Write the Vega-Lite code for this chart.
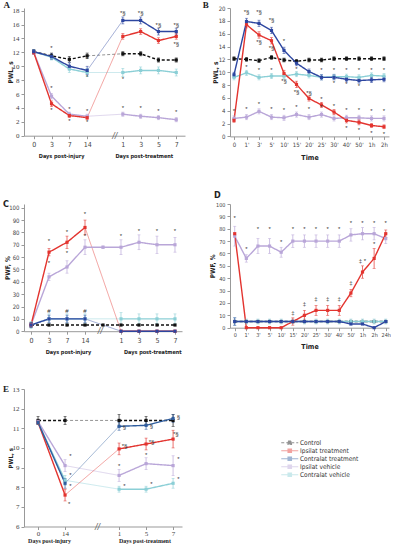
{
"$schema": "https://vega.github.io/schema/vega-lite/v6.json",
"padding": {"left": 2, "top": 0, "right": 0, "bottom": 0},
"background": "white",
"datasets": {
"A": [
{"s":"C","x":0,"y":12.1,"e":0.3,"g":"a"},{"s":"C","x":1,"y":11.5,"e":0.4,"g":"a"},{"s":"C","x":2,"y":11.0,"e":0.4,"g":"a"},{"s":"C","x":3,"y":11.5,"e":0.4,"g":"a"},
{"s":"C","x":5,"y":11.8,"e":0.3,"g":"b"},{"s":"C","x":6,"y":11.8,"e":0.3,"g":"b"},{"s":"C","x":7,"y":10.9,"e":0.3,"g":"b"},{"s":"C","x":8,"y":10.9,"e":0.3,"g":"b"},
{"s":"C","x":3,"y":11.5,"e":0,"g":"gap"},{"s":"C","x":5,"y":11.8,"e":0,"g":"gap"},
{"s":"CV","x":0,"y":12.1,"e":0.3,"g":"a"},{"s":"CV","x":1,"y":11.3,"e":0.4,"g":"a"},{"s":"CV","x":2,"y":9.6,"e":0.5,"g":"a"},{"s":"CV","x":3,"y":9.1,"e":0.6,"g":"a"},
{"s":"CV","x":5,"y":9.1,"e":0.6,"g":"b"},{"s":"CV","x":6,"y":9.4,"e":0.5,"g":"b"},{"s":"CV","x":7,"y":9.4,"e":0.5,"g":"b"},{"s":"CV","x":8,"y":9.1,"e":0.5,"g":"b"},
{"s":"CV","x":3,"y":9.1,"e":0,"g":"gap"},{"s":"CV","x":5,"y":9.1,"e":0,"g":"gap"},
{"s":"IV","x":0,"y":12.0,"e":0.3,"g":"a"},{"s":"IV","x":1,"y":5.7,"e":0.4,"g":"a"},{"s":"IV","x":2,"y":3.1,"e":0.3,"g":"a"},{"s":"IV","x":3,"y":2.8,"e":0.3,"g":"a"},
{"s":"IV","x":5,"y":3.1,"e":0.3,"g":"b"},{"s":"IV","x":6,"y":2.8,"e":0.3,"g":"b"},{"s":"IV","x":7,"y":2.6,"e":0.3,"g":"b"},{"s":"IV","x":8,"y":2.3,"e":0.3,"g":"b"},
{"s":"IV","x":3,"y":2.8,"e":0,"g":"gap"},{"s":"IV","x":5,"y":3.1,"e":0,"g":"gap"},
{"s":"IT","x":0,"y":12.0,"e":0.3,"g":"a"},{"s":"IT","x":1,"y":4.6,"e":0.4,"g":"a"},{"s":"IT","x":2,"y":2.9,"e":0.3,"g":"a"},{"s":"IT","x":3,"y":2.6,"e":0.3,"g":"a"},
{"s":"IT","x":5,"y":14.3,"e":0.4,"g":"b"},{"s":"IT","x":6,"y":15.0,"e":0.4,"g":"b"},{"s":"IT","x":7,"y":13.7,"e":0.4,"g":"b"},{"s":"IT","x":8,"y":14.3,"e":0.4,"g":"b"},
{"s":"IT","x":3,"y":2.6,"e":0,"g":"gap"},{"s":"IT","x":5,"y":14.3,"e":0,"g":"gap"},
{"s":"CT","x":0,"y":12.1,"e":0.3,"g":"a"},{"s":"CT","x":1,"y":11.4,"e":0.4,"g":"a"},{"s":"CT","x":2,"y":10.0,"e":0.5,"g":"a"},{"s":"CT","x":3,"y":9.4,"e":0.6,"g":"a"},
{"s":"CT","x":5,"y":16.6,"e":0.5,"g":"b"},{"s":"CT","x":6,"y":16.6,"e":0.5,"g":"b"},{"s":"CT","x":7,"y":15.0,"e":0.5,"g":"b"},{"s":"CT","x":8,"y":15.0,"e":0.5,"g":"b"},
{"s":"CT","x":3,"y":9.4,"e":0,"g":"gap"},{"s":"CT","x":5,"y":16.6,"e":0,"g":"gap"}
],
"Aa": [
{"x":-1.52,"y":18.88,"t":"A","k":"L"},
{"x":1,"y":12.6,"t":"*","k":"n"},{"x":1,"y":6.8,"t":"*","k":"n"},{"x":1,"y":3.7,"t":"*","k":"n"},
{"x":2,"y":3.8,"t":"*","k":"n"},{"x":2,"y":2.1,"t":"*","k":"n"},
{"x":3,"y":11.0,"t":"*","k":"n"},{"x":3,"y":8.4,"t":"*","k":"n"},{"x":3,"y":3.6,"t":"*","k":"n"},{"x":3,"y":2.0,"t":"*","k":"n"},
{"x":5,"y":17.6,"t":"*§","k":"n"},{"x":5,"y":8.2,"t":"*","k":"n"},{"x":5,"y":4.0,"t":"*","k":"n"},
{"x":6,"y":17.6,"t":"*§","k":"n"},{"x":6,"y":4.0,"t":"*","k":"n"},
{"x":7,"y":16.0,"t":"*§","k":"n"},{"x":7,"y":3.6,"t":"*","k":"n"},
{"x":8,"y":16.0,"t":"*§","k":"n"},{"x":8,"y":13.2,"t":"*§","k":"n"},{"x":8,"y":3.4,"t":"*","k":"n"},
{"x":4.55,"y":0,"t":"//","k":"b"}
],
"B": [
{"s":"C","x":0,"y":12.1,"e":0.3},{"s":"C","x":1,"y":12.0,"e":0.3},{"s":"C","x":2,"y":11.8,"e":0.3},{"s":"C","x":3,"y":12.3,"e":0.3},{"s":"C","x":4,"y":11.9,"e":0.3},{"s":"C","x":5,"y":11.7,"e":0.3},{"s":"C","x":6,"y":11.9,"e":0.3},{"s":"C","x":7,"y":11.9,"e":0.3},{"s":"C","x":8,"y":12.1,"e":0.3},{"s":"C","x":9,"y":12.1,"e":0.3},{"s":"C","x":10,"y":12.1,"e":0.3},{"s":"C","x":11,"y":12.1,"e":0.3},{"s":"C","x":12,"y":12.1,"e":0.3},
{"s":"CV","x":0,"y":9.2,"e":0.4},{"s":"CV","x":1,"y":9.9,"e":0.4},{"s":"CV","x":2,"y":9.2,"e":0.4},{"s":"CV","x":3,"y":9.4,"e":0.4},{"s":"CV","x":4,"y":9.4,"e":0.4},{"s":"CV","x":5,"y":9.7,"e":0.4},{"s":"CV","x":6,"y":9.5,"e":0.4},{"s":"CV","x":7,"y":9.2,"e":0.4},{"s":"CV","x":8,"y":9.3,"e":0.4},{"s":"CV","x":9,"y":9.3,"e":0.4},{"s":"CV","x":10,"y":9.2,"e":0.4},{"s":"CV","x":11,"y":9.5,"e":0.4},{"s":"CV","x":12,"y":9.4,"e":0.4},
{"s":"IV","x":0,"y":2.8,"e":0.4},{"s":"IV","x":1,"y":3.0,"e":0.4},{"s":"IV","x":2,"y":3.9,"e":0.4},{"s":"IV","x":3,"y":3.0,"e":0.4},{"s":"IV","x":4,"y":2.9,"e":0.4},{"s":"IV","x":5,"y":3.4,"e":0.4},{"s":"IV","x":6,"y":3.0,"e":0.4},{"s":"IV","x":7,"y":3.4,"e":0.4},{"s":"IV","x":8,"y":2.8,"e":0.4},{"s":"IV","x":9,"y":2.9,"e":0.4},{"s":"IV","x":10,"y":2.9,"e":0.4},{"s":"IV","x":11,"y":2.8,"e":0.4},{"s":"IV","x":12,"y":2.8,"e":0.4},
{"s":"IT","x":0,"y":2.5,"e":0.3},{"s":"IT","x":1,"y":17.4,"e":0.5},{"s":"IT","x":2,"y":15.8,"e":0.5},{"s":"IT","x":3,"y":14.9,"e":0.5},{"s":"IT","x":4,"y":9.8,"e":0.5},{"s":"IT","x":5,"y":8.1,"e":0.5},{"s":"IT","x":6,"y":5.9,"e":0.4},{"s":"IT","x":7,"y":4.9,"e":0.4},{"s":"IT","x":8,"y":3.8,"e":0.4},{"s":"IT","x":9,"y":2.5,"e":0.4},{"s":"IT","x":10,"y":2.2,"e":0.4},{"s":"IT","x":11,"y":1.7,"e":0.3},{"s":"IT","x":12,"y":1.5,"e":0.3},
{"s":"CT","x":0,"y":9.6,"e":0.4},{"s":"CT","x":1,"y":17.9,"e":0.5},{"s":"CT","x":2,"y":17.6,"e":0.5},{"s":"CT","x":3,"y":16.5,"e":0.5},{"s":"CT","x":4,"y":13.4,"e":0.5},{"s":"CT","x":5,"y":11.4,"e":0.4},{"s":"CT","x":6,"y":10.1,"e":0.4},{"s":"CT","x":7,"y":9.2,"e":0.4},{"s":"CT","x":8,"y":9.2,"e":0.4},{"s":"CT","x":9,"y":8.9,"e":0.4},{"s":"CT","x":10,"y":8.7,"e":0.4},{"s":"CT","x":11,"y":8.8,"e":0.4},{"s":"CT","x":12,"y":8.9,"e":0.4}
],
"Ba": [
{"x":-2.26,"y":20.5,"t":"B","k":"L"},
{"x":1,"y":19.3,"t":"*§","k":"n"},{"x":2,"y":19.3,"t":"*§","k":"n"},{"x":3,"y":18.2,"t":"*§","k":"n"},{"x":4,"y":14.8,"t":"*","k":"n"},
{"x":2,"y":14.7,"t":"*§","k":"n"},{"x":3,"y":13.7,"t":"*§","k":"n"},{"x":4,"y":8.6,"t":"*§","k":"n"},{"x":5,"y":6.9,"t":"*§","k":"n"},{"x":6,"y":6.8,"t":"*§","k":"n"},{"x":7,"y":5.9,"t":"*","k":"n"},{"x":8,"y":4.8,"t":"*","k":"n"},
{"x":1,"y":10.8,"t":"*","k":"n"},{"x":2,"y":10.4,"t":"*","k":"n"},{"x":3,"y":10.4,"t":"*","k":"n"},{"x":5,"y":10.5,"t":"*","k":"n"},{"x":7,"y":10.4,"t":"*","k":"n"},{"x":8,"y":10.4,"t":"*","k":"n"},{"x":9,"y":10.4,"t":"*","k":"n"},{"x":10,"y":10.4,"t":"*","k":"n"},{"x":11,"y":10.4,"t":"*","k":"n"},{"x":12,"y":10.4,"t":"*","k":"n"},
{"x":0,"y":4.0,"t":"*","k":"n"},{"x":1,"y":4.2,"t":"*","k":"n"},{"x":2,"y":5.0,"t":"*","k":"n"},{"x":3,"y":4.2,"t":"*","k":"n"},{"x":4,"y":4.1,"t":"*","k":"n"},{"x":5,"y":4.6,"t":"*","k":"n"},{"x":6,"y":4.2,"t":"*","k":"n"},{"x":7,"y":4.6,"t":"*","k":"n"},{"x":9,"y":4.1,"t":"*","k":"n"},{"x":10,"y":4.1,"t":"*","k":"n"},{"x":11,"y":4.0,"t":"*","k":"n"},{"x":12,"y":4.0,"t":"*","k":"n"},
{"x":8,"y":8.3,"t":"*","k":"n"},{"x":9,"y":8.1,"t":"*","k":"n"},{"x":10,"y":7.8,"t":"*","k":"n"},
{"x":9,"y":1.3,"t":"*","k":"n"},{"x":10,"y":1.0,"t":"*","k":"n"},{"x":11,"y":0.6,"t":"*","k":"n"},{"x":12,"y":0.4,"t":"*","k":"n"}
],
"C": [
{"s":"C","x":0,"y":5,"e":2,"g":"a"},{"s":"C","x":1,"y":5,"e":0,"g":"a"},{"s":"C","x":2,"y":5,"e":0,"g":"a"},{"s":"C","x":3,"y":5,"e":0,"g":"a"},{"s":"C","x":4,"y":5,"e":0,"g":"a"},{"s":"C","x":5,"y":5,"e":0,"g":"a"},{"s":"C","x":6,"y":5,"e":0,"g":"a"},{"s":"C","x":7,"y":5,"e":0,"g":"a"},{"s":"C","x":8,"y":5,"e":0,"g":"a"},
{"s":"CV","x":0,"y":5,"e":3,"g":"a"},{"s":"CV","x":1,"y":10,"e":4,"g":"a"},{"s":"CV","x":2,"y":10,"e":4,"g":"a"},{"s":"CV","x":3,"y":10,"e":4,"g":"a"},
{"s":"CV","x":5,"y":10,"e":5,"g":"b"},{"s":"CV","x":6,"y":10,"e":4,"g":"b"},{"s":"CV","x":7,"y":10,"e":4,"g":"b"},{"s":"CV","x":8,"y":10,"e":4,"g":"b"},
{"s":"CV","x":3,"y":10,"e":0,"g":"gap"},{"s":"CV","x":5,"y":10,"e":0,"g":"gap"},
{"s":"IV","x":0,"y":5,"e":0,"g":"a"},{"s":"IV","x":1,"y":44,"e":3,"g":"a"},{"s":"IV","x":2,"y":52,"e":5,"g":"a"},{"s":"IV","x":3,"y":68,"e":6,"g":"a"},{"s":"IV","x":4,"y":68,"e":1,"g":"a"},{"s":"IV","x":5,"y":68,"e":6,"g":"a"},{"s":"IV","x":6,"y":72,"e":6,"g":"a"},{"s":"IV","x":7,"y":70,"e":7,"g":"a"},{"s":"IV","x":8,"y":70,"e":6,"g":"a"},
{"s":"IT","x":0,"y":5,"e":0,"g":"a"},{"s":"IT","x":1,"y":64,"e":3,"g":"a"},{"s":"IT","x":2,"y":72,"e":5,"g":"a"},{"s":"IT","x":3,"y":84,"e":6,"g":"a"},
{"s":"IT","x":5,"y":0,"e":0,"g":"b"},{"s":"IT","x":6,"y":0,"e":0,"g":"b"},{"s":"IT","x":7,"y":0,"e":0,"g":"b"},{"s":"IT","x":8,"y":0,"e":0,"g":"b"},
{"s":"IT","x":3,"y":84,"e":0,"g":"gap"},{"s":"IT","x":5,"y":0,"e":0,"g":"gap"},
{"s":"CT","x":0,"y":5,"e":2,"g":"a"},{"s":"CT","x":1,"y":10,"e":3,"g":"a"},{"s":"CT","x":2,"y":10,"e":3,"g":"a"},{"s":"CT","x":3,"y":10,"e":3,"g":"a"},
{"s":"CT","x":5,"y":0,"e":0,"g":"b"},{"s":"CT","x":6,"y":0,"e":0,"g":"b"},{"s":"CT","x":7,"y":0,"e":0,"g":"b"},{"s":"CT","x":8,"y":0,"e":0,"g":"b"},
{"s":"CT","x":3,"y":10,"e":0,"g":"gap"},{"s":"CT","x":4,"y":5,"e":0,"g":"gap"},{"s":"CT","x":5,"y":0,"e":0,"g":"gap"}
],
"Ca": [
{"x":-1.39,"y":103,"t":"C","k":"L"},
{"x":1,"y":73,"t":"*","k":"n"},{"x":1,"y":55,"t":"*","k":"n"},{"x":2,"y":80,"t":"*","k":"n"},{"x":2,"y":63,"t":"*","k":"n"},{"x":3,"y":95,"t":"*","k":"n"},{"x":3,"y":77,"t":"*","k":"n"},
{"x":5,"y":77,"t":"*","k":"n"},{"x":6,"y":81,"t":"*","k":"n"},{"x":7,"y":81,"t":"*","k":"n"},{"x":8,"y":81,"t":"*","k":"n"},
{"x":1,"y":16,"t":"#","k":"n"},{"x":2,"y":16,"t":"#","k":"n"},{"x":3,"y":16,"t":"#","k":"n"},
{"x":3.85,"y":0,"t":"//","k":"b"}
],
"D": [
{"s":"C","x":0,"y":5,"e":0},{"s":"C","x":1,"y":5,"e":0},{"s":"C","x":2,"y":5,"e":0},{"s":"C","x":3,"y":5,"e":0},{"s":"C","x":4,"y":5,"e":0},{"s":"C","x":5,"y":5,"e":0},{"s":"C","x":6,"y":5,"e":0},{"s":"C","x":7,"y":5,"e":0},{"s":"C","x":8,"y":5,"e":0},{"s":"C","x":9,"y":5,"e":0},{"s":"C","x":10,"y":5,"e":0},{"s":"C","x":11,"y":5,"e":0},{"s":"C","x":12,"y":5,"e":0},{"s":"C","x":13,"y":5,"e":0},
{"s":"CV","x":0,"y":5,"e":3},{"s":"CV","x":1,"y":5,"e":2},{"s":"CV","x":2,"y":5,"e":2},{"s":"CV","x":3,"y":5,"e":2},{"s":"CV","x":4,"y":5,"e":2},{"s":"CV","x":5,"y":5,"e":2},{"s":"CV","x":6,"y":5,"e":2},{"s":"CV","x":7,"y":5,"e":2},{"s":"CV","x":8,"y":5,"e":2},{"s":"CV","x":9,"y":5,"e":2},{"s":"CV","x":10,"y":5,"e":2},{"s":"CV","x":11,"y":5,"e":2},{"s":"CV","x":12,"y":5,"e":2},{"s":"CV","x":13,"y":5,"e":2},
{"s":"IV","x":0,"y":74,"e":8},{"s":"IV","x":1,"y":56,"e":3},{"s":"IV","x":2,"y":66,"e":6},{"s":"IV","x":3,"y":66,"e":6},{"s":"IV","x":4,"y":61,"e":4},{"s":"IV","x":5,"y":70,"e":5},{"s":"IV","x":6,"y":70,"e":5},{"s":"IV","x":7,"y":70,"e":5},{"s":"IV","x":8,"y":70,"e":5},{"s":"IV","x":9,"y":70,"e":5},{"s":"IV","x":10,"y":75,"e":5},{"s":"IV","x":11,"y":76,"e":5},{"s":"IV","x":12,"y":76,"e":5},{"s":"IV","x":13,"y":72,"e":4},
{"s":"IT","x":0,"y":76,"e":0},{"s":"IT","x":1,"y":0,"e":0},{"s":"IT","x":2,"y":0,"e":0},{"s":"IT","x":3,"y":0,"e":0},{"s":"IT","x":4,"y":0,"e":0},{"s":"IT","x":5,"y":5,"e":3},{"s":"IT","x":6,"y":10,"e":4},{"s":"IT","x":7,"y":14,"e":4},{"s":"IT","x":8,"y":14,"e":4},{"s":"IT","x":9,"y":14,"e":4},{"s":"IT","x":10,"y":28,"e":3},{"s":"IT","x":11,"y":45,"e":5},{"s":"IT","x":12,"y":56,"e":8},{"s":"IT","x":13,"y":76,"e":3},
{"s":"CT","x":0,"y":5,"e":3},{"s":"CT","x":1,"y":5,"e":0},{"s":"CT","x":2,"y":5,"e":0},{"s":"CT","x":3,"y":5,"e":0},{"s":"CT","x":4,"y":5,"e":0},{"s":"CT","x":5,"y":5,"e":0},{"s":"CT","x":6,"y":5,"e":0},{"s":"CT","x":7,"y":5,"e":0},{"s":"CT","x":8,"y":5,"e":0},{"s":"CT","x":9,"y":5,"e":0},{"s":"CT","x":10,"y":3,"e":0},{"s":"CT","x":11,"y":3,"e":0},{"s":"CT","x":12,"y":0,"e":0},{"s":"CT","x":13,"y":5,"e":0}
],
"Da": [
{"x":-1.5,"y":107.3,"t":"D","k":"L"},
{"x":0,"y":89,"t":"*","k":"n"},{"x":1,"y":64,"t":"*","k":"n"},{"x":2,"y":80,"t":"*","k":"n"},{"x":3,"y":80,"t":"*","k":"n"},{"x":4,"y":69,"t":"*","k":"n"},{"x":5,"y":80,"t":"*","k":"n"},{"x":6,"y":80,"t":"*","k":"n"},{"x":7,"y":80,"t":"*","k":"n"},{"x":8,"y":80,"t":"*","k":"n"},{"x":9,"y":80,"t":"*","k":"n"},{"x":10,"y":85,"t":"*","k":"n"},{"x":11,"y":85,"t":"*","k":"n"},{"x":12,"y":85,"t":"*","k":"n"},{"x":13,"y":85,"t":"*","k":"n"},
{"x":5,"y":12,"t":"‡","k":"n"},{"x":6,"y":19,"t":"‡","k":"n"},{"x":7,"y":23,"t":"‡","k":"n"},{"x":8,"y":23,"t":"‡","k":"n"},{"x":9,"y":23,"t":"‡","k":"n"},{"x":10,"y":36,"t":"‡","k":"n"},{"x":11,"y":54,"t":"‡ *","k":"n"},{"x":12,"y":68,"t":"*","k":"n"}
],
"E": [
{"s":"C","x":0,"y":11.4,"e":0.2,"g":"a"},{"s":"C","x":1,"y":11.4,"e":0.2,"g":"a"},
{"s":"C","x":3,"y":11.4,"e":0.3,"g":"b"},{"s":"C","x":4,"y":11.4,"e":0.2,"g":"b"},{"s":"C","x":5,"y":11.4,"e":0.3,"g":"b"},
{"s":"C","x":1,"y":11.4,"e":0,"g":"gap"},{"s":"C","x":3,"y":11.4,"e":0,"g":"gap"},
{"s":"CV","x":0,"y":11.3,"e":0.1,"g":"a"},{"s":"CV","x":1,"y":8.35,"e":0.25,"g":"a"},
{"s":"CV","x":3,"y":7.9,"e":0.15,"g":"b"},{"s":"CV","x":4,"y":7.9,"e":0.15,"g":"b"},{"s":"CV","x":5,"y":8.2,"e":0.25,"g":"b"},
{"s":"CV","x":1,"y":8.35,"e":0,"g":"gap"},{"s":"CV","x":3,"y":7.9,"e":0,"g":"gap"},
{"s":"IV","x":0,"y":11.35,"e":0.1,"g":"a"},{"s":"IV","x":1,"y":9.1,"e":0.3,"g":"a"},
{"s":"IV","x":3,"y":8.6,"e":0.3,"g":"b"},{"s":"IV","x":4,"y":9.2,"e":0.3,"g":"b"},{"s":"IV","x":5,"y":9.1,"e":0.5,"g":"b"},
{"s":"IV","x":1,"y":9.1,"e":0,"g":"gap"},{"s":"IV","x":3,"y":8.6,"e":0,"g":"gap"},
{"s":"IT","x":0,"y":11.3,"e":0.1,"g":"a"},{"s":"IT","x":1,"y":7.6,"e":0.3,"g":"a"},
{"s":"IT","x":3,"y":9.95,"e":0.3,"g":"b"},{"s":"IT","x":4,"y":10.2,"e":0.3,"g":"b"},{"s":"IT","x":5,"y":10.45,"e":0.45,"g":"b"},
{"s":"IT","x":1,"y":7.6,"e":0,"g":"gap"},{"s":"IT","x":3,"y":9.95,"e":0,"g":"gap"},
{"s":"CT","x":0,"y":11.3,"e":0.1,"g":"a"},{"s":"CT","x":1,"y":8.2,"e":0.25,"g":"a"},
{"s":"CT","x":3,"y":11.1,"e":0.2,"g":"b"},{"s":"CT","x":4,"y":11.15,"e":0.2,"g":"b"},{"s":"CT","x":5,"y":11.5,"e":0.2,"g":"b"},
{"s":"CT","x":1,"y":8.2,"e":0,"g":"gap"},{"s":"CT","x":3,"y":11.1,"e":0,"g":"gap"}
],
"Ea": [
{"x":-1.19,"y":13,"t":"E","k":"L"},
{"x":1.2,"y":9.6,"t":"*","k":"n"},{"x":1.2,"y":8.6,"t":"*","k":"n"},{"x":1.2,"y":8.05,"t":"*","k":"n"},{"x":1.15,"y":7.15,"t":"*","k":"n"},
{"x":3.2,"y":10.1,"t":"*§","k":"n"},{"x":4.2,"y":10.3,"t":"*§","k":"n"},{"x":5.1,"y":10.7,"t":"*§","k":"n"},
{"x":3.2,"y":11.05,"t":"§","k":"n"},{"x":4.2,"y":11.1,"t":"§","k":"n"},{"x":5.2,"y":11.6,"t":"§","k":"n"},
{"x":3.0,"y":9.1,"t":"*","k":"n"},{"x":4.0,"y":9.65,"t":"*","k":"n"},{"x":5.2,"y":9.45,"t":"*","k":"n"},
{"x":3.2,"y":8.05,"t":"*","k":"n"},{"x":4.2,"y":8.15,"t":"*","k":"n"},{"x":5.2,"y":8.4,"t":"*","k":"n"},
{"x":2.2,"y":6,"t":"//","k":"b"}
]
},
"vconcat": [
{"hconcat": [
{
"width": 161, "height": 127.7,
"data": {"name": "A"},
"encoding": {
"x": {"field": "x", "type": "quantitative", "scale": {"domain": [-0.545, 8.49], "nice": false, "zero": false},
"axis": {"values": [0,1,2,3,5,6,7,8], "labelExpr": "['0','3','7','14','','1','3','5','7'][datum.value]", "labelFont": "Liberation Sans Narrow, DejaVu Sans Condensed, sans-serif", "title": "Days post-injury\u00a0\u00a0\u00a0\u00a0\u00a0\u00a0\u00a0\u00a0\u00a0\u00a0\u00a0\u00a0\u00a0\u00a0\u00a0\u00a0\u00a0\u00a0Days post-treatment", "titleX": 81.5, "titleFont": "Liberation Sans Narrow, DejaVu Sans Condensed, sans-serif", "titleFontSize": 5.5, "titlePadding": 6}},
"y": {"field": "y", "type": "quantitative", "scale": {"domain": [0, 18.39], "nice": false}, "axis": {"values": [0,2,4,6,8,10,12,14,16,18], "title": "PWL, s", "labelFont": "Liberation Serif", "titlePadding": -1.5, "titleFontSize": 6.5, "titleFont": "DejaVu Sans Condensed, sans-serif"}}
},
"layer": [
{"transform": [{"filter": "datum.g == 'gap'"}], "mark": {"type": "line", "strokeWidth": 1, "opacity": 0.45},
"encoding": {"color": {"field": "s", "type": "nominal", "scale": {"domain": ["C","IT","CT","IV","CV"], "range": ["#111111","#e3342f","#2d46a0","#b9a6d8","#8bcfd6"]}, "legend": null}, "strokeDash": {"field": "s", "type": "nominal", "scale": {"domain": ["C","IT","CT","IV","CV"], "range": [[3,2],[1,0],[1,0],[1,0],[1,0]]}, "legend": null}, "detail": {"field": "g"}}},
{"transform": [{"filter": "datum.g != 'gap'"}], "mark": {"type": "line", "strokeWidth": 1.4},
"encoding": {"color": {"field": "s", "type": "nominal", "legend": null}, "strokeDash": {"field": "s", "type": "nominal", "legend": null}, "detail": {"field": "g"}}},
{"transform": [{"filter": "datum.g != 'gap' && datum.e > 0"}], "mark": {"type": "errorbar", "ticks": {"size": 3}, "thickness": 0.7},
"encoding": {"yError": {"field": "e"}, "color": {"field": "s", "type": "nominal", "legend": null}}},
{"transform": [{"filter": "datum.g != 'gap'"}], "mark": {"type": "point", "filled": true, "shape": "square", "size": 10, "opacity": 1},
"encoding": {"color": {"field": "s", "type": "nominal", "legend": null}}},
{"data": {"name": "Aa"}, "transform": [{"filter": "datum.k == 'n'"}], "mark": {"type": "text", "fontSize": 6, "color": "#333"}, "encoding": {"text": {"field": "t"}}},
{"data": {"name": "Aa"}, "transform": [{"filter": "datum.k == 'b'"}], "mark": {"type": "text", "fontSize": 9, "color": "#666", "fontStyle": "italic", "clip": false}, "encoding": {"text": {"field": "t"}}},
{"data": {"name": "Aa"}, "transform": [{"filter": "datum.k == 'L'"}], "mark": {"type": "text", "fontSize": 9, "fontWeight": "bold", "font": "Liberation Serif", "color": "#222", "clip": false}, "encoding": {"text": {"field": "t"}}}
]
},
{
"width": 159, "height": 128.4,
"data": {"name": "B"},
"encoding": {
"x": {"field": "x", "type": "quantitative", "scale": {"domain": [-0.32, 12.4], "nice": false, "zero": false},
"axis": {"values": [0,1,2,3,4,5,6,7,8,9,10,11,12], "labelExpr": "[\"0\",\"1'\",\"3'\",\"5'\",\"10'\",\"15'\",\"20'\",\"25'\",\"30'\",\"40'\",\"50'\",\"1h\",\"2h\"][datum.value]", "labelFont": "Liberation Sans Narrow, DejaVu Sans Condensed, sans-serif", "labelFontSize": 6, "title": "Time", "titleFont": "Liberation Sans Narrow, DejaVu Sans Condensed, sans-serif", "titlePadding": 6.5}},
"y": {"field": "y", "type": "quantitative", "scale": {"domain": [0, 20], "nice": false}, "axis": {"values": [0,2,4,6,8,10,12,14,16,18,20], "title": "PWL, s", "labelFont": "Liberation Sans Narrow, DejaVu Sans Condensed, sans-serif", "labelFontSize": 6, "titlePadding": 0, "titleFontSize": 6.5, "titleFont": "DejaVu Sans Condensed, sans-serif"}}
},
"layer": [
{"mark": {"type": "line", "strokeWidth": 1.4},
"encoding": {"color": {"field": "s", "type": "nominal", "scale": {"domain": ["C","IT","CT","IV","CV"], "range": ["#111111","#e3342f","#2d46a0","#b9a6d8","#8bcfd6"]}, "legend": null}, "strokeDash": {"field": "s", "type": "nominal", "scale": {"domain": ["C","IT","CT","IV","CV"], "range": [[3,2],[1,0],[1,0],[1,0],[1,0]]}, "legend": null}}},
{"mark": {"type": "errorbar", "ticks": {"size": 3}, "thickness": 0.7},
"encoding": {"yError": {"field": "e"}, "color": {"field": "s", "type": "nominal", "legend": null}}},
{"mark": {"type": "point", "filled": true, "shape": "square", "size": 10, "opacity": 1},
"encoding": {"color": {"field": "s", "type": "nominal", "legend": null}}},
{"data": {"name": "Ba"}, "transform": [{"filter": "datum.k == 'n'"}], "mark": {"type": "text", "fontSize": 6, "color": "#333"}, "encoding": {"text": {"field": "t"}}},
{"data": {"name": "Ba"}, "transform": [{"filter": "datum.k == 'L'"}], "mark": {"type": "text", "fontSize": 9, "fontWeight": "bold", "font": "Liberation Serif", "color": "#222", "clip": false}, "encoding": {"text": {"field": "t"}}}
]
}
], "spacing": 45, "bounds": "flush", "resolve": {"scale": {"color": "independent", "strokeDash": "independent"}}},
{"hconcat": [
{
"width": 158, "height": 127.2,
"data": {"name": "C"},
"encoding": {
"x": {"field": "x", "type": "quantitative", "scale": {"domain": [-0.39, 8.39], "nice": false, "zero": false},
"axis": {"values": [0,1,2,3,5,6,7,8], "labelExpr": "['0','3','7','14','','1','3','5','7'][datum.value]", "labelFont": "Liberation Sans Narrow, DejaVu Sans Condensed, sans-serif", "title": "Days post-injury\u00a0\u00a0\u00a0\u00a0\u00a0\u00a0\u00a0\u00a0\u00a0\u00a0\u00a0\u00a0\u00a0\u00a0\u00a0\u00a0\u00a0\u00a0\u00a0Days post-treatment", "titleX": 89.2, "titleFont": "Liberation Sans Narrow, DejaVu Sans Condensed, sans-serif", "titleFontSize": 5.5, "titlePadding": 6.5}},
"y": {"field": "y", "type": "quantitative", "scale": {"domain": [0, 103], "nice": false}, "axis": {"values": [0,10,20,30,40,50,60,70,80,90,100], "title": "PWF, %", "labelFont": "Liberation Sans Narrow, DejaVu Sans Condensed, sans-serif", "labelFontSize": 6, "titlePadding": -2, "titleFontSize": 6.5, "titleFont": "DejaVu Sans Condensed, sans-serif"}}
},
"layer": [
{"transform": [{"filter": "datum.g == 'gap'"}], "mark": {"type": "line", "strokeWidth": 1, "opacity": 0.45},
"encoding": {"color": {"field": "s", "type": "nominal", "scale": {"domain": ["C","IT","CT","IV","CV"], "range": ["#111111","#e3342f","#2d46a0","#b9a6d8","#8bcfd6"]}, "legend": null}, "strokeDash": {"field": "s", "type": "nominal", "scale": {"domain": ["C","IT","CT","IV","CV"], "range": [[3,2],[1,0],[1,0],[1,0],[1,0]]}, "legend": null}, "detail": {"field": "g"}}},
{"transform": [{"filter": "datum.g != 'gap'"}], "mark": {"type": "line", "strokeWidth": 1.4},
"encoding": {"color": {"field": "s", "type": "nominal", "legend": null}, "strokeDash": {"field": "s", "type": "nominal", "legend": null}, "detail": {"field": "g"}}},
{"transform": [{"filter": "datum.g != 'gap' && datum.e > 0"}], "mark": {"type": "errorbar", "ticks": {"size": 3}, "thickness": 0.7},
"encoding": {"yError": {"field": "e"}, "color": {"field": "s", "type": "nominal", "legend": null}}},
{"transform": [{"filter": "datum.g != 'gap'"}], "mark": {"type": "point", "filled": true, "shape": "square", "size": 10, "opacity": 1},
"encoding": {"color": {"field": "s", "type": "nominal", "legend": null}}},
{"data": {"name": "Ca"}, "transform": [{"filter": "datum.k == 'n'"}], "mark": {"type": "text", "fontSize": 6, "color": "#333"}, "encoding": {"text": {"field": "t"}}},
{"data": {"name": "Ca"}, "transform": [{"filter": "datum.k == 'b'"}], "mark": {"type": "text", "fontSize": 9, "color": "#666", "fontStyle": "italic", "clip": false}, "encoding": {"text": {"field": "t"}}},
{"data": {"name": "Ca"}, "transform": [{"filter": "datum.k == 'L'"}], "mark": {"type": "text", "fontSize": 9, "fontWeight": "bold", "font": "DejaVu Sans Condensed", "color": "#222", "clip": false}, "encoding": {"text": {"field": "t"}}}
]
},
{
"width": 159, "height": 123.7,
"data": {"name": "D"},
"encoding": {
"x": {"field": "x", "type": "quantitative", "scale": {"domain": [-0.405, 13.28], "nice": false, "zero": false},
"axis": {"values": [0,1,2,3,4,5,6,7,8,9,10,11,12,13], "labelExpr": "[\"0\",\"1'\",\"3'\",\"5'\",\"10'\",\"15'\",\"20'\",\"25'\",\"30'\",\"40'\",\"50'\",\"1h\",\"2h\",\"24h\"][datum.value]", "labelFont": "Liberation Sans Narrow, DejaVu Sans Condensed, sans-serif", "labelFontSize": 5.5, "title": "Time", "titleFont": "Liberation Sans Narrow, DejaVu Sans Condensed, sans-serif", "titlePadding": 4}},
"y": {"field": "y", "type": "quantitative", "scale": {"domain": [0, 100], "nice": false}, "axis": {"values": [0,10,20,30,40,50,60,70,80,90,100], "title": "PWF, %", "labelFont": "Liberation Sans Narrow, DejaVu Sans Condensed, sans-serif", "labelFontSize": 5.5, "titlePadding": 0, "titleFontSize": 6.5, "titleFont": "DejaVu Sans Condensed, sans-serif"}}
},
"layer": [
{"mark": {"type": "line", "strokeWidth": 1.4},
"encoding": {"color": {"field": "s", "type": "nominal", "scale": {"domain": ["C","IT","CT","IV","CV"], "range": ["#111111","#e3342f","#2d46a0","#b9a6d8","#8bcfd6"]}, "legend": null}, "strokeDash": {"field": "s", "type": "nominal", "scale": {"domain": ["C","IT","CT","IV","CV"], "range": [[3,2],[1,0],[1,0],[1,0],[1,0]]}, "legend": null}}},
{"transform": [{"filter": "datum.e > 0"}], "mark": {"type": "errorbar", "ticks": {"size": 3}, "thickness": 0.7},
"encoding": {"yError": {"field": "e"}, "color": {"field": "s", "type": "nominal", "legend": null}}},
{"mark": {"type": "point", "filled": true, "shape": "square", "size": 10, "opacity": 1},
"encoding": {"color": {"field": "s", "type": "nominal", "legend": null}}},
{"data": {"name": "Da"}, "transform": [{"filter": "datum.k == 'n'"}], "mark": {"type": "text", "fontSize": 6, "color": "#333"}, "encoding": {"text": {"field": "t"}}},
{"data": {"name": "Da"}, "transform": [{"filter": "datum.k == 'L'"}], "mark": {"type": "text", "fontSize": 9, "fontWeight": "bold", "font": "DejaVu Sans Condensed", "color": "#222", "clip": false}, "encoding": {"text": {"field": "t"}}}
]
}
], "spacing": 48, "bounds": "flush", "resolve": {"scale": {"color": "independent", "strokeDash": "independent"}}},
{
"width": 158, "height": 137.5,
"data": {"name": "E"},
"encoding": {
"x": {"field": "x", "type": "quantitative", "scale": {"domain": [-0.52, 5.33], "nice": false, "zero": false},
"axis": {"values": [0,1,3,4,5], "labelExpr": "['0','14','','1','5','7'][datum.value]", "labelFont": "Liberation Serif", "labelPadding": 0, "title": "Days post-injury\u00a0\u00a0\u00a0\u00a0\u00a0\u00a0\u00a0\u00a0\u00a0\u00a0\u00a0\u00a0\u00a0\u00a0\u00a0\u00a0\u00a0\u00a0\u00a0\u00a0\u00a0\u00a0\u00a0\u00a0\u00a0\u00a0\u00a0\u00a0\u00a0\u00a0\u00a0\u00a0Days post-treatment", "titleX": 75, "titleFont": "Liberation Serif", "titleFontSize": 6, "titlePadding": 1}},
"y": {"field": "y", "type": "quantitative", "scale": {"domain": [6, 13], "nice": false, "zero": false}, "axis": {"values": [6,7,8,9,10,11,12,13], "title": "PWL, s", "labelFont": "Liberation Serif", "titlePadding": -1, "titleFontSize": 6, "titleFont": "DejaVu Sans Condensed, sans-serif"}}
},
"layer": [
{"transform": [{"filter": "datum.g != 'gap'"}], "mark": {"type": "line", "strokeWidth": 1.4},
"encoding": {
"color": {"field": "s", "type": "nominal", "scale": {"domain": ["C","IT","CT","IV","CV"], "range": ["#111111","#e3342f","#2f5d9e","#b9a6d8","#8bcfd6"]},
"legend": {"title": null, "orient": "none", "legendX": 262.5, "legendY": 50.5, "padding": 0, "symbolType": "M-4.25,0H4.25M-0.85,-0.85H0.85V0.85H-0.85Z", "symbolSize": 16, "symbolStrokeWidth": 1.2, "labelFontSize": 6.5, "labelFont": "DejaVu Sans Condensed, sans-serif", "labelColor": "#333", "labelOffset": 7, "rowPadding": -1.3, "labelExpr": "datum.label == 'C' ? 'Control' : datum.label == 'IT' ? 'Ipsilat treatment' : datum.label == 'CT' ? 'Contralat treatment' : datum.label == 'IV' ? 'Ipsilat vehicle' : 'Contralat vehicle'"}},
"strokeDash": {"field": "s", "type": "nominal", "scale": {"domain": ["C","IT","CT","IV","CV"], "range": [[3,2],[1,0],[1,0],[1,0],[1,0]]},
"legend": {"title": null, "orient": "none", "legendX": 262.5, "legendY": 50.5, "padding": 0, "symbolType": "M-4.25,0H4.25M-0.85,-0.85H0.85V0.85H-0.85Z", "symbolSize": 16, "symbolStrokeWidth": 1.2, "labelFontSize": 6.5, "labelFont": "DejaVu Sans Condensed, sans-serif", "labelColor": "#333", "labelOffset": 7, "rowPadding": -1.3, "labelExpr": "datum.label == 'C' ? 'Control' : datum.label == 'IT' ? 'Ipsilat treatment' : datum.label == 'CT' ? 'Contralat treatment' : datum.label == 'IV' ? 'Ipsilat vehicle' : 'Contralat vehicle'"}},
"detail": {"field": "g"}}},
{"transform": [{"filter": "datum.g == 'gap'"}], "mark": {"type": "line", "strokeWidth": 1, "opacity": 0.45},
"encoding": {"color": {"field": "s", "type": "nominal"}, "strokeDash": {"field": "s", "type": "nominal"}, "detail": {"field": "g"}}},
{"transform": [{"filter": "datum.g != 'gap' && datum.e > 0"}], "mark": {"type": "errorbar", "ticks": {"size": 3}, "thickness": 0.7},
"encoding": {"yError": {"field": "e"}, "color": {"field": "s", "type": "nominal"}}},
{"transform": [{"filter": "datum.g != 'gap'"}], "mark": {"type": "point", "filled": true, "shape": "square", "size": 10, "opacity": 1},
"encoding": {"color": {"field": "s", "type": "nominal"}}},
{"data": {"name": "Ea"}, "transform": [{"filter": "datum.k == 'n'"}], "mark": {"type": "text", "fontSize": 6, "color": "#333"}, "encoding": {"text": {"field": "t"}}},
{"data": {"name": "Ea"}, "transform": [{"filter": "datum.k == 'b'"}], "mark": {"type": "text", "fontSize": 9, "color": "#666", "fontStyle": "italic", "clip": false}, "encoding": {"text": {"field": "t"}}},
{"data": {"name": "Ea"}, "transform": [{"filter": "datum.k == 'L'"}], "mark": {"type": "text", "fontSize": 9, "fontWeight": "bold", "font": "Liberation Serif", "color": "#222", "clip": false}, "encoding": {"text": {"field": "t"}}}
]
}
],
"spacing": 29,
"resolve": {"scale": {"color": "independent", "strokeDash": "independent"}},
"config": {
"view": {"stroke": null},
"axis": {"grid": false, "domainColor": "#999", "tickColor": "#999", "tickSize": 3, "labelFontSize": 7, "labelColor": "#444", "titleFontSize": 7, "titleFontWeight": "bold", "titleColor": "#222", "labelPadding": 2, "labelFlush": false, "labelOverlap": false}
}
}
